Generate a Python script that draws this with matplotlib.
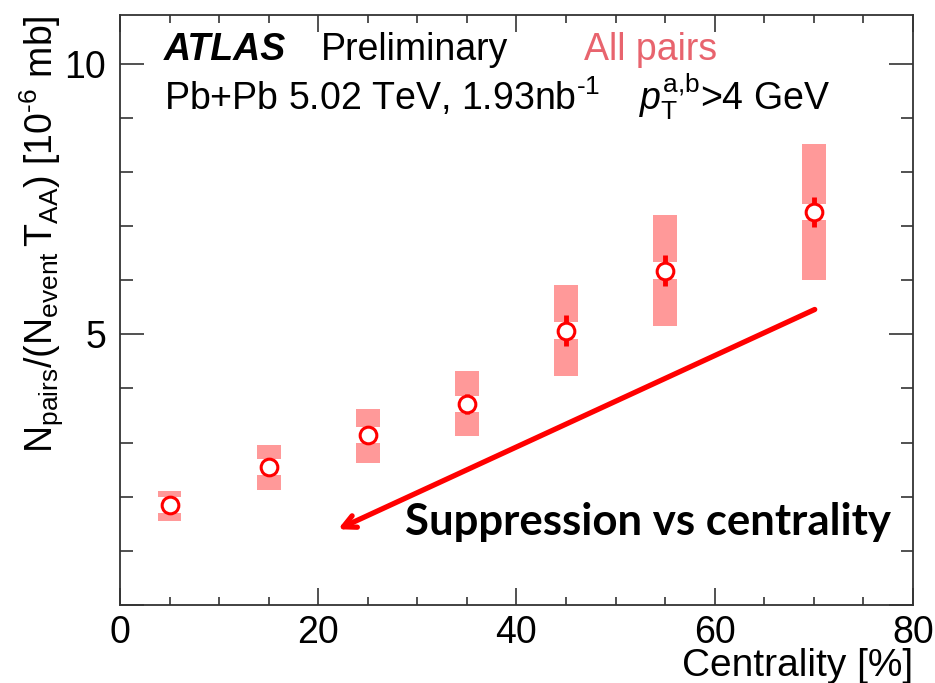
"""Pair yield per event, normalised by T_AA, versus centrality (Pb+Pb 5.02 TeV)."""
import numpy as np
import matplotlib
matplotlib.use("Agg")
import matplotlib.pyplot as plt
from matplotlib.patches import Rectangle
from matplotlib.ticker import MultipleLocator, FuncFormatter

# centrality bin centres [%] and measured yields [1e-6 mb]
centrality = [5, 15, 25, 35, 45, 55, 70]
yields = [1.85, 2.55, 3.14, 3.71, 5.07, 6.18, 7.26]
stat_err = [0.07, 0.09, 0.12, 0.19, 0.29, 0.29, 0.27]
syst_lo = [1.56, 2.13, 2.62, 3.12, 4.24, 5.15, 6.01]
syst_hi = [2.11, 2.96, 3.63, 4.32, 5.91, 7.20, 8.51]

RED = "#ff0000"
BAND = "#ff9999"
LABEL_RED = "#e8646e"

plt.rcParams["font.family"] = ["Liberation Sans", "DejaVu Sans"]
plt.rcParams["mathtext.fontset"] = "custom"
plt.rcParams["mathtext.rm"] = "Liberation Sans"
plt.rcParams["mathtext.it"] = "Liberation Sans:italic"
plt.rcParams["mathtext.bf"] = "Liberation Sans:bold"

fig = plt.figure(figsize=(9.35, 6.83), dpi=100)
ax = fig.add_axes([0.1283, 0.1142, 0.848, 0.8638])

box_w = 2.4
gap = 0.15  # band is cut around the marker
for x, y, lo, hi in zip(centrality, yields, syst_lo, syst_hi):
    ax.add_patch(Rectangle((x - box_w / 2, y + gap), box_w, hi - y - gap,
                           facecolor=BAND, edgecolor="none", zorder=1))
    ax.add_patch(Rectangle((x - box_w / 2, lo), box_w, y - gap - lo,
                           facecolor=BAND, edgecolor="none", zorder=1))

ax.errorbar(centrality, yields, yerr=stat_err, fmt="none", ecolor=RED,
            elinewidth=3.5, capsize=0, zorder=2)
ax.plot(centrality, yields, "o", ms=12, mfc="white", mec=RED, mew=2.2,
        zorder=3, ls="none")

ax.set_xlim(0, 80)
ax.set_ylim(0, 10.9)
ax.xaxis.set_major_locator(MultipleLocator(20))
ax.xaxis.set_minor_locator(MultipleLocator(5))
ax.yaxis.set_major_locator(MultipleLocator(5))
ax.yaxis.set_minor_locator(MultipleLocator(1))
# y axis starts unlabelled at zero
ax.yaxis.set_major_formatter(FuncFormatter(lambda v, p: "" if v == 0 else f"{v:g}"))
ax.tick_params(which="both", direction="in", top=True, right=True,
               labelsize=27, width=1.2, color="#333333")
ax.tick_params(axis="x", which="major", length=12, pad=7)
ax.tick_params(axis="x", which="minor", length=6)
ax.tick_params(axis="y", which="major", length=17, pad=10)
ax.tick_params(axis="y", which="minor", length=9)
for sp in ax.spines.values():
    sp.set_linewidth(1.3)
    sp.set_color("#333333")

ax.set_xlabel("Centrality [%]", fontsize=28, ha="right", x=1.0, labelpad=-2)
ax.set_ylabel(r"N$_{\rm pairs}$/(N$_{\rm event}\,$T$_{\rm AA}$) [10$^{\text{-6}}$ mb]",
              fontsize=27, ha="right", y=1.0, labelpad=-1)

ax.text(0.055, 0.94, "ATLAS", transform=ax.transAxes, fontsize=27,
        fontweight="bold", fontstyle="italic", va="center")
ax.text(0.253, 0.94, "Preliminary", transform=ax.transAxes, fontsize=27,
        va="center")
ax.text(0.585, 0.94, "All pairs", transform=ax.transAxes, fontsize=27,
        va="center", color=LABEL_RED)
ax.text(0.055, 0.862, r"Pb+Pb 5.02 TeV, 1.93nb$^{\text{-1}}$",
        transform=ax.transAxes, fontsize=27, va="center")
ax.text(0.655, 0.862, r"$\it{p}_{\rm T}^{\text{a,b}}$>4 GeV",
        transform=ax.transAxes, fontsize=27, va="center")

ax.annotate("", xy=(22.0, 1.40), xytext=(70.1, 5.46),
            arrowprops=dict(arrowstyle="->, head_length=0.9, head_width=0.45",
                            color=RED, lw=3.8, shrinkA=0, shrinkB=0),
            zorder=4)
fig.text(0.433, 0.235, "Suppression vs centrality", fontsize=31.5,
         fontweight="bold", family=["Lato", "DejaVu Sans"], va="center")

fig.savefig("out.png", dpi=100)
